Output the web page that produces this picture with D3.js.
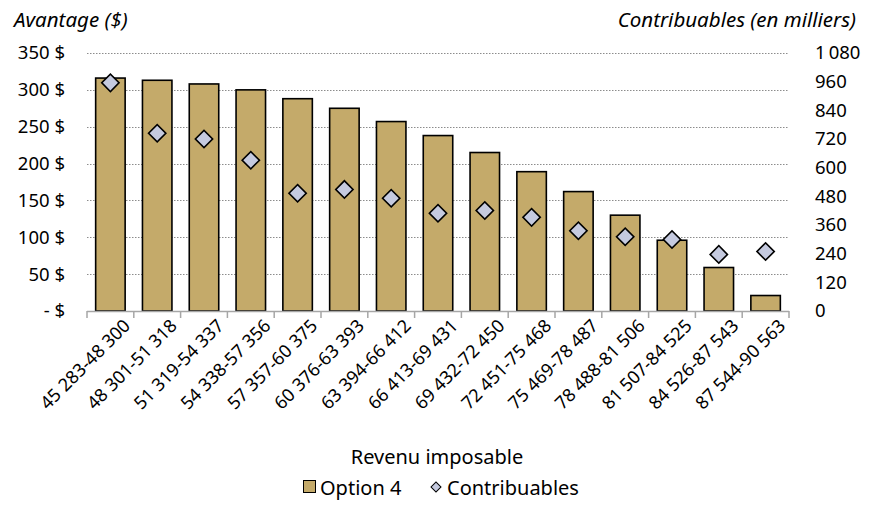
<!DOCTYPE html>
<html>
<head>
<meta charset="utf-8">
<script src="https://cdn.jsdelivr.net/npm/d3@7"></script>
<style>
  body { margin: 0; background: #fff; }
  svg text { font-family: "Segoe UI", "Noto Sans", sans-serif; fill: #000; }
</style>
</head>
<body>
<svg id="chart" width="873" height="506"></svg>
<script>
// Income brackets (taxable income)
const categories = [
  "45 283-48 300", "48 301-51 318", "51 319-54 337", "54 338-57 356",
  "57 357-60 375", "60 376-63 393", "63 394-66 412", "66 413-69 431",
  "69 432-72 450", "72 451-75 468", "75 469-78 487", "78 488-81 506",
  "81 507-84 525", "84 526-87 543", "87 544-90 563"
];
// Benefit of option 4, in dollars
const option4 = [316, 313, 308, 300, 288, 275, 257, 238, 215, 189, 162, 130, 96, 59, 21];
// Number of taxpayers, in thousands
const contribuables = [955, 744, 720, 631, 493, 509, 472, 409, 421, 392, 336, 311, 299, 237, 249];

const leftTicks = [0, 50, 100, 150, 200, 250, 300, 350];
const rightTicks = [0, 120, 240, 360, 480, 600, 720, 840, 960, 1080];

const FONT = '"Segoe UI", "Noto Sans", sans-serif';
const svg = d3.select("#chart");
const m = { left: 87, right: 789, top: 53, bottom: 311 };

const x = d3.scaleBand().domain(categories).range([m.left, m.right]).paddingInner(0.37).paddingOuter(0.185);
const yL = d3.scaleLinear().domain([0, 350]).range([m.bottom, m.top]);
const yR = d3.scaleLinear().domain([0, 1080]).range([m.bottom, m.top]);

const fmtDollar = v => v === 0 ? "- $" : v + " $";
const fmtThousands = v => d3.format(",")(v).replace(/,/g, "\u2009");

// Dotted gridlines on the left axis values
svg.append("g").selectAll("line").data(leftTicks.filter(d => d > 0)).join("line")
  .attr("x1", m.left).attr("x2", m.right)
  .attr("y1", d => Math.round(yL(d)) + 0.5).attr("y2", d => Math.round(yL(d)) + 0.5)
  .attr("stroke", "#8c8c8c").attr("stroke-width", 1).attr("stroke-dasharray", "1.5,1.5");

// Left axis labels
const gL = svg.append("g").attr("transform", `translate(${m.left},0)`)
  .call(d3.axisLeft(yL).tickValues(leftTicks).tickFormat(fmtDollar).tickSize(0).tickPadding(22));
gL.select(".domain").remove();
gL.selectAll("text").attr("font-size", 18.5).style("font-family", FONT);

// Right axis labels
const gR = svg.append("g").attr("transform", `translate(${m.right},0)`)
  .call(d3.axisRight(yR).tickValues(rightTicks).tickFormat(fmtThousands).tickSize(0).tickPadding(26));
gR.select(".domain").remove();
gR.selectAll("text").attr("font-size", 18.5).style("font-family", FONT);

// Bars
svg.append("g").selectAll("rect").data(option4).join("rect")
  .attr("x", (d, i) => x(categories[i]))
  .attr("y", d => yL(d))
  .attr("width", x.bandwidth())
  .attr("height", d => yL(0) - yL(d))
  .attr("fill", "#C4AA6A").attr("stroke", "#000").attr("stroke-width", 1.6);

// Category axis line with boundary ticks
const gX = svg.append("g");
gX.append("line").attr("x1", m.left).attr("x2", m.right)
  .attr("y1", m.bottom + 0.5).attr("y2", m.bottom + 0.5)
  .attr("stroke", "#a6a6a6").attr("stroke-width", 1.5);
gX.selectAll("line.tick").data(d3.range(categories.length + 1)).join("line").attr("class", "tick")
  .attr("x1", i => m.left + i * (m.right - m.left) / categories.length)
  .attr("x2", i => m.left + i * (m.right - m.left) / categories.length)
  .attr("y1", m.bottom).attr("y2", m.bottom + 7)
  .attr("stroke", "#a6a6a6").attr("stroke-width", 1.5);

// Rotated category labels
gX.selectAll("text").data(categories).join("text")
  .attr("transform", d => `translate(${x(d) + x.bandwidth() / 2 + 12},${m.bottom + 7}) rotate(-45)`)
  .attr("text-anchor", "end").attr("dy", "0.7em")
  .attr("font-size", 18).text(d => d);

// Taxpayer diamonds
svg.append("g").selectAll("path").data(contribuables).join("path")
  .attr("d", d3.symbol().type(d3.symbolSquare).size(150))
  .attr("transform", (d, i) => `translate(${x(categories[i]) + x.bandwidth() / 2},${yR(d)}) rotate(45)`)
  .attr("fill", "#C5CADF").attr("stroke", "#000").attr("stroke-width", 1.6);

// Axis titles
svg.append("text").attr("x", 14).attr("y", 27).attr("font-size", 20.5).attr("font-style", "italic").text("Avantage ($)");
svg.append("text").attr("x", 856).attr("y", 27).attr("text-anchor", "end").attr("font-size", 20.5).attr("font-style", "italic").text("Contribuables (en milliers)");
svg.append("text").attr("x", 437).attr("y", 464).attr("text-anchor", "middle").attr("font-size", 20).text("Revenu imposable");

// Legend
const lg = svg.append("g");
lg.append("rect").attr("x", 303.5).attr("y", 480.5).attr("width", 12).attr("height", 12)
  .attr("fill", "#C4AA6A").attr("stroke", "#000").attr("stroke-width", 1);
lg.append("text").attr("x", 320).attr("y", 495).attr("font-size", 20).text("Option 4");
lg.append("path").attr("d", d3.symbol().type(d3.symbolSquare).size(50))
  .attr("transform", "translate(436,487) rotate(45)")
  .attr("fill", "#C5CADF").attr("stroke", "#000").attr("stroke-width", 1);
lg.append("text").attr("x", 447).attr("y", 495).attr("font-size", 20).text("Contribuables");
</script>
</body>
</html>
